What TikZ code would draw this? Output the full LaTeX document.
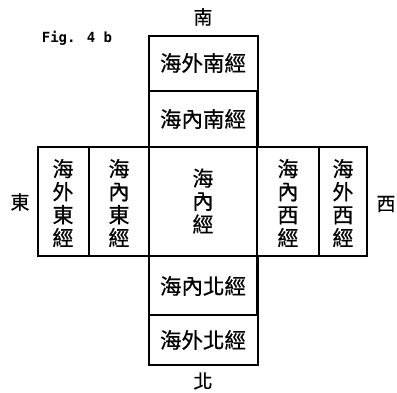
\documentclass[tikz,border=0pt]{standalone}
\usepackage{fontspec}
\newfontfamily\cjk[FakeBold=0.6]{Noto Sans CJK TC}
\newfontfamily\figfont{DejaVu Sans Mono}
\begin{document}
\begin{tikzpicture}[x=1pt,y=-1pt,
  cell/.style={draw=black,line width=1.4pt,inner sep=0pt,outer sep=0pt},
  htext/.style={font=\cjk\fontsize{21.5}{22}\selectfont},
  vtext/.style={font=\cjk\fontsize{21}{23}\selectfont,align=center},
  dirlabel/.style={font=\cjk\fontsize{19}{20}\selectfont}]
\useasboundingbox (0,0) rectangle (397,393);
% boxes
\draw[cell] (149,36) rectangle (258,91);
\draw[cell] (149,91) rectangle (258,147);
\draw[cell] (149,147) rectangle (257,256);
\draw[cell] (149,256) rectangle (258,315);
\draw[cell] (149,315) rectangle (258,365);
\draw[cell] (89,147) rectangle (149,256);
\draw[cell] (38,147) rectangle (89,256);
\draw[cell] (257,147) rectangle (319,256);
\draw[cell] (319,147) rectangle (367,256);
% thick cross lines
\draw[line width=2.2pt] (38,147) -- (367,147);
\draw[line width=2.2pt] (38,256) -- (367,256);
\draw[line width=2.2pt] (149,91) -- (149,315);
\draw[line width=2.2pt] (257,91) -- (257,315);
% texts
\node[htext] (ws) at (203,63) {海外南經};
\node[htext] (ns) at (203,119) {海內南經};
\node[vtext] (c) at (203,201) {海\\內\\經};
\node[htext] (nn) at (203,286) {海內北經};
\node[htext] (wn) at (203,340) {海外北經};
\node[vtext] (ne) at (119,203) {海\\內\\東\\經};
\node[vtext] (we) at (63,203) {海\\外\\東\\經};
\node[vtext] (nw) at (288,203) {海\\內\\西\\經};
\node[vtext] (ww) at (343,203) {海\\外\\西\\經};
% directions
\node[dirlabel] (s) at (203,17) {南};
\node[dirlabel] (n) at (203,381) {北};
\node[dirlabel] (e) at (20,202) {東};
\node[dirlabel] (w) at (386,204) {西};
\node[font=\figfont\bfseries\fontsize{14}{16}\selectfont] (fig) at (77,38) {Fig. 4 b};
\end{tikzpicture}
\end{document}
